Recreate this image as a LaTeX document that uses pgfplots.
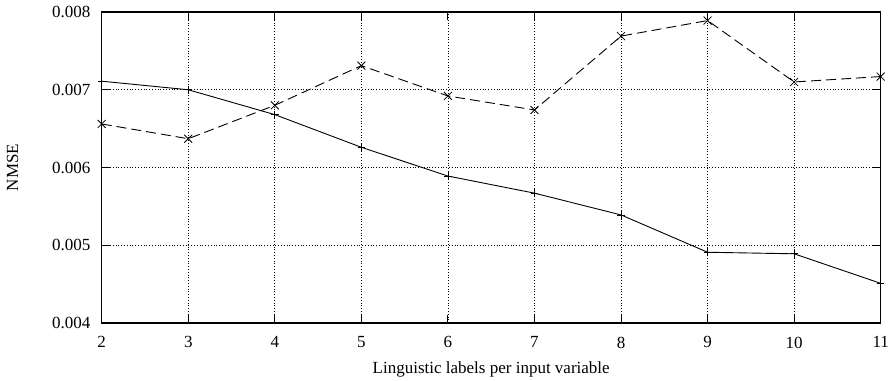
\documentclass[border=0pt]{standalone}
\usepackage{pgfplots}
\pgfplotsset{compat=1.18}
\usepackage{fontspec}
\setmainfont{Liberation Serif}

% NMSE against number of linguistic labels
\pgfplotstableread{
x    y
2    0.00711
3    0.00700
4    0.00668
5    0.00626
6    0.00589
7    0.00567
8    0.00539
9    0.00491
10   0.00489
11   0.00451
}\solidseries

\pgfplotstableread{
x    y
2    0.00656
3    0.00637
4    0.00680
5    0.00731
6    0.00692
7    0.00674
8    0.00769
9    0.00789
10   0.00710
11   0.00717
}\dashedseries

\begin{document}
\fontsize{17bp}{20bp}\selectfont
\begin{tikzpicture}
\path[use as bounding box] (-101.7bp,-58bp) rectangle (794.3bp,323bp);
\begin{axis}[
  at={(0,0)}, anchor=south west,
  scale only axis, width=779bp, height=311bp,
  xmin=2, xmax=11, ymin=0.004, ymax=0.008,
  xtick={2,3,4,5,6,7,8,9,10,11},
  xticklabels={2,3,4,5,6,7,8,9,10,11},
  ytick={0.004,0.005,0.006,0.007,0.008},
  yticklabels={0.004,0.005,0.006,0.007,0.008},
  /pgf/number format/assume math mode=true,
  scaled y ticks=false,
  tick align=inside,
  major tick length=8bp,
  tick style={black, line width=0.9bp},
  axis line style={black, line width=1.2bp},
  xmajorgrids, ymajorgrids,
  grid style={black, line width=0.7bp, dash pattern=on 0.8bp off 2bp},
  xticklabel style={anchor=north, inner sep=0pt, yshift=-13.5bp},
  yticklabel style={anchor=east, inner sep=0pt, xshift=-11bp},
  xlabel={Linguistic labels per input variable},
  ylabel={NMSE},
  xlabel style={at={(axis description cs:0.5,-0.1608)}, anchor=base, inner sep=0pt},
  ylabel style={at={(axis description cs:-0.1143,0.5)}, anchor=center, inner sep=0pt},
  clip=false,
]
\addplot[black, line width=0.9bp, mark=+, mark size=3.8bp,
  mark options={solid, line width=0.8bp}] table[x=x, y=y] {\solidseries};
\addplot[black, line width=0.9bp, dash pattern=on 10bp off 5bp, mark=x, mark size=5.6bp,
  mark options={solid, line width=0.8bp}] table[x=x, y=y] {\dashedseries};
\end{axis}
\end{tikzpicture}
\end{document}
